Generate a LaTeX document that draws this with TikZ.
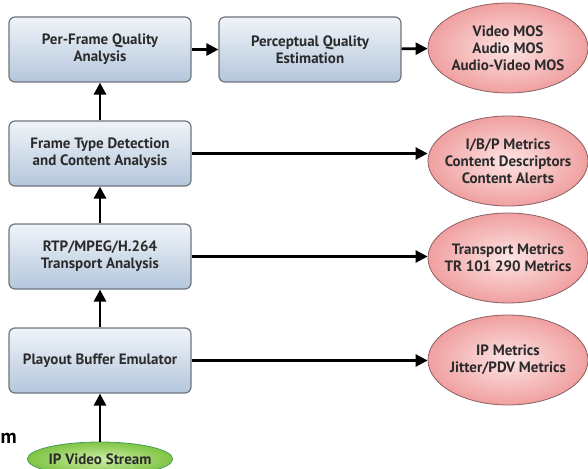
\documentclass[tikz,border=0pt]{standalone}
\usepackage{fontspec}
\setmainfont{PT Sans}
\usetikzlibrary{arrows.meta,shapes.geometric}

\definecolor{boxtop}{HTML}{B4C6DC}
\definecolor{boxbot}{HTML}{F0F4F9}
\definecolor{boxline}{HTML}{6E757D}
\definecolor{redin}{HTML}{FDE4E4}
\definecolor{redout}{HTML}{F0A0A0}
\definecolor{greenin}{HTML}{CDEDA5}
\definecolor{greenout}{HTML}{80C444}
\definecolor{txt}{HTML}{2B2B2B}

\tikzset{
	block/.style={draw=boxline, line width=1.2pt, rounded corners=6pt,
		top color=boxbot, bottom color=boxtop, minimum width=182pt,
		minimum height=65pt, align=center, text=txt, font=\bfseries\fontsize{15}{17}\selectfont},
	result/.style={ellipse, draw=boxline!80!red, line width=0.8pt, inner color=redin,
		outer color=redout, minimum width=160pt, minimum height=90pt, align=center,
		inner xsep=-10pt, inner ysep=0pt,
		text=txt, font=\bfseries\fontsize{15}{17}\selectfont},
	source/.style={ellipse, draw=boxline!70!green, line width=0.8pt, inner color=greenin,
		outer color=greenout, minimum width=130pt, minimum height=34pt, inner sep=0pt,
		text=txt, font=\bfseries\fontsize{15}{17}\selectfont},
	flow/.style={line width=2.6pt, -{Triangle[length=12pt,width=12pt]}}
}

\begin{document}
\begin{tikzpicture}[x=1pt,y=-1pt]
	\useasboundingbox (0,0) rectangle (588,468);
	\begin{scope}
	\clip (0,0) rectangle (588,468);
	
	% left column of analysis blocks
	\node[block] (perframe) at (100,49.5) {Per-Frame Quality\\Analysis};
	\node[block] (percept) at (310,49.5) {Perceptual Quality\\Estimation};
	\node[block] (frametype) at (100,153.5) {Frame Type Detection\\and Content Analysis};
	\node[block] (transport) at (100,256.5) {RTP/MPEG/H.264\\Transport Analysis};
	\node[block] (playout) at (100,360.5) {Playout Buffer Emulator};
	
	\node[source] (stream) at (100,459) {IP Video Stream};
	
	% metrics on the right
	\node[result] (mos) at (508,48) {Video MOS\\Audio MOS\\Audio-Video MOS};
	\node[result] (ibp) at (508,161) {I/B/P Metrics\\Content Descriptors\\Content Alerts};
	\node[result] (tr) at (508,258) {Transport Metrics\\TR 101 290 Metrics};
	\node[result] (ipm) at (508,360) {IP Metrics\\Jitter/PDV Metrics};
	
	\node[anchor=base west, inner sep=0pt, text=black, font=\bfseries\fontsize{20}{22}\selectfont] (frag) at (0.5,443) {m};
	
	\draw[flow] (stream) -- (playout);
	\draw[flow] (playout) -- (transport);
	\draw[flow] (transport) -- (frametype);
	\draw[flow] (frametype) -- (perframe);
	\draw[flow] (perframe) -- (percept);
	\draw[flow] (percept) -- (mos);
	
	\draw[flow] (frametype.east) -- (frametype.east -| ibp.west);
	\draw[flow] (transport.east) -- (transport.east -| tr.west);
	\draw[flow] (playout.east) -- (playout.east -| ipm.west);
	\end{scope}
\end{tikzpicture}
\end{document}
